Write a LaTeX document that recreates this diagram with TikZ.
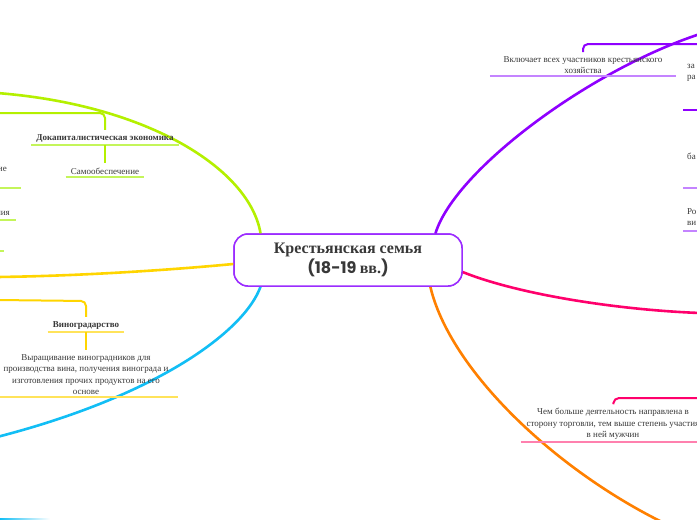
\documentclass[tikz,border=0pt]{standalone}
\usepackage{fontspec}
\setmainfont{Liberation Serif}
\newfontfamily\popp{Poppins}
\definecolor{limec}{HTML}{B4F000}
\definecolor{limel}{HTML}{C4F55A}
\definecolor{yelc}{HTML}{FFD500}
\definecolor{yell}{HTML}{FFE35A}
\definecolor{cyanc}{HTML}{12BEF5}
\definecolor{purc}{HTML}{8F00FF}
\definecolor{purl}{HTML}{C484FF}
\definecolor{rootc}{HTML}{9B2CFF}
\definecolor{pinkc}{HTML}{FF006C}
\definecolor{pinkl}{HTML}{FF80AE}
\definecolor{orc}{HTML}{FF8000}
\definecolor{txtc}{HTML}{383838}
\begin{document}
\begin{tikzpicture}[x=1pt,y=-1pt,
  branch/.style={line width=2.6pt, line cap=round},
  hook/.style={line width=2pt, rounded corners=5pt},
  ul/.style={line width=1.2pt},
  txt/.style={font=\fontsize{9}{11.5}\selectfont, text=txtc, align=center, inner xsep=5pt, inner ysep=2pt},
  btxt/.style={txt, font=\fontsize{9}{11.5}\selectfont\bfseries},
  rootbox/.style={draw=rootc, line width=1.5pt, rounded corners=14pt, minimum width=228pt, minimum height=52pt, fill=white, align=center, text=txtc, font=\fontsize{16}{20}\selectfont\bfseries}
]
\useasboundingbox (0,0) rectangle (697,520);
\fill[white] (0,0) rectangle (697,520);

% root (placed first for anchors, redrawn on top)
\node[rootbox] (root) at (348,260) {Крестьянская семья\\{\popp (18-19 }вв.{\popp )}};

% free ends
\coordinate (limeEnd) at (-3,93);
\coordinate (yelEnd) at (-3,277);
\coordinate (cyanEnd) at (-3,437);
\coordinate (purEnd) at (700,34);
\coordinate (pinkEnd) at (700,313);
\coordinate (orEnd) at (666,524);
\coordinate (limeIn) at (-3,113);
\coordinate (yelIn) at (-3,300);
\coordinate (purIn) at (700,44);
\coordinate (pinkIn) at (700,398);

% main branches
\draw[branch, limec] (root.163) .. controls (250,170) and (150,105) .. (limeEnd);
\draw[branch, yelc] (root.182) .. controls (170,270) and (80,276) .. (yelEnd);
\draw[branch, cyanc] (root.197) .. controls (245,330) and (160,395) .. (cyanEnd);
\draw[branch, purc] (root.17) .. controls (455,170) and (590,70) .. (purEnd);
\draw[branch, pinkc] (root.354) .. controls (520,295) and (620,310) .. (pinkEnd);
\draw[branch, orc] (root.342) .. controls (450,370) and (555,470) .. (orEnd);

% root on top
\node[rootbox] at (root) {Крестьянская семья\\{\popp (18-19 }вв.{\popp )}};

% lime subtree
\node[btxt, anchor=south, minimum width=147pt] (dok) at (105,145) {Докапиталистическая экономика};
\draw[ul, limel] (dok.south west) -- (dok.south east);
\draw[hook, limec, shorten >=3pt] (limeIn) -- (105,113) -- (dok.north);
\node[txt, anchor=south, minimum width=78pt] (samo) at (105,177) {Самообеспечение};
\draw[ul, limel] (samo.south west) -- (samo.south east);
\draw[line width=2pt, limec, shorten >=3pt] (dok.south) -- (samo.north);

\node[txt, anchor=east, inner xsep=0pt] (frIe) at (7,169) {ие};
\draw[ul, limel] (-5,188) -- (21,188);
\node[txt, anchor=east, inner xsep=0pt] (frNia) at (10,213) {ния};
\draw[ul, limel] (-5,220) -- (16,220);
\draw[ul, limel] (-5,251) -- (4,251);

% yellow subtree
\node[btxt, anchor=south, minimum width=76pt] (vino) at (86,332) {Виноградарство};
\draw[ul, yell] (vino.south west) -- (vino.south east);
\draw[hook, yelc, shorten >=3pt] (yelIn) -- (86,301) -- (vino.north);
\node[txt, anchor=south, minimum width=184pt] (vdesc) at (86,397)
  {Выращивание виноградников для\\производства вина, получения винограда и\\изготовления прочих продуктов на его\\основе};
\draw[ul, yell] (vdesc.south west) -- (vdesc.south east);
\draw[line width=2pt, yelc, shorten >=2pt] (vino.south) -- (vdesc.north);

% cyan fragment at bottom
\shade[left color=cyanc, right color=white] (0,518) rectangle (50,520.5);

% purple subtree
\node[txt, anchor=south, minimum width=186pt] (vkl) at (583,76)
  {Включает всех участников крестьянского\\хозяйства};
\draw[ul, purl] (vkl.south west) -- (vkl.south east);
\draw[hook, purc, shorten >=2pt] (purIn) -- (583,44) -- (vkl.north);

\node[txt, anchor=west, align=left, inner xsep=0pt] (frZa) at (687,73) {за\\ра};
\draw[ul, purc] (683,110) -- (700,110);
\node[txt, anchor=west, align=left, inner xsep=0pt] (frBa) at (687,162) {ба\\\phantom{a}};
\draw[ul, purl] (683,188) -- (700,188);
\node[txt, anchor=west, align=left, inner xsep=0pt] (frRo) at (687,217) {Ро\\ви};
\draw[ul, purl] (683,231) -- (700,231);

% pink subtree
\node[txt, anchor=south, minimum width=184pt] (chem) at (613,442)
  {Чем больше деятельность направлена в\\сторону торговли, тем выше степень участия\\в ней мужчин};
\draw[ul, pinkl] (chem.south west) -- (chem.south east);
\draw[hook, pinkc, shorten >=2pt] (pinkIn) -- (614,398) -- (chem.north);
\end{tikzpicture}
\end{document}
